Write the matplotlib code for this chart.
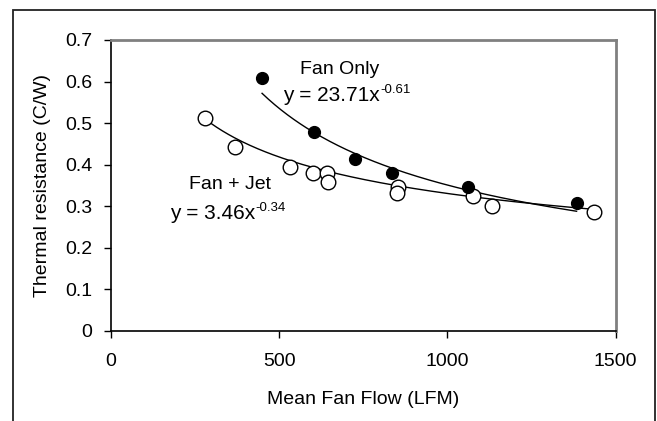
import numpy as np
import matplotlib
matplotlib.use("Agg")
import matplotlib.pyplot as plt
from matplotlib.patches import Rectangle

plt.rcParams['font.family'] = ['Liberation Sans', 'DejaVu Sans']

# Fan only measurements
fan_only_x = [449, 602, 724, 834, 1062, 1384]
fan_only_y = [0.609, 0.479, 0.413, 0.380, 0.345, 0.308]

# Fan + jet measurements
fan_jet_x = [279, 370, 531, 601, 641, 646, 852, 849, 1077, 1133, 1435]
fan_jet_y = [0.511, 0.443, 0.393, 0.379, 0.379, 0.359, 0.347, 0.331, 0.325, 0.301, 0.286]

# Power-law fits y = a * x^b
fan_only_fit = (23.71, -0.61)
fan_jet_fit = (3.46, -0.34)

x_ticks = [0, 500, 1000, 1500]
y_ticks = [0, 0.1, 0.2, 0.3, 0.4, 0.5, 0.6, 0.7]
y_tick_labels = ["0", "0.1", "0.2", "0.3", "0.4", "0.5", "0.6", "0.7"]

fig = plt.figure(figsize=(6.57, 4.21), dpi=100)
ax = fig.add_axes([0.169, 0.2145, 0.768, 0.6905])

# outer frame around the figure
fig.patches.append(Rectangle((0.0198, -0.2), 0.9772, 1.176, transform=fig.transFigure,
                             fill=False, edgecolor='#222222', linewidth=1.3,
                             clip_on=False, zorder=0))

for (a, b), xs in ((fan_only_fit, fan_only_x), (fan_jet_fit, fan_jet_x)):
    xx = np.linspace(min(xs), max(xs), 200)
    ax.plot(xx, a * xx ** b, color='black', linewidth=1.0, zorder=2)

ax.plot(fan_jet_x, fan_jet_y, linestyle='none', marker='o', markersize=10.5,
        markerfacecolor='white', markeredgecolor='black', markeredgewidth=1.0, zorder=3)
ax.plot(fan_only_x, fan_only_y, linestyle='none', marker='o', markersize=8.5,
        markerfacecolor='black', markeredgecolor='black', zorder=4)

ax.set_xlim(0, 1500)
ax.set_ylim(0, 0.7)
ax.set_xticks(x_ticks)
ax.set_yticks(y_ticks)
ax.set_yticklabels(y_tick_labels)
ax.tick_params(direction='out', length=5, width=1.0, labelsize=14, colors='black')
ax.tick_params(axis='x', pad=11)
ax.tick_params(axis='y', pad=8.5)

for side in ('top', 'right'):
    ax.spines[side].set_color('#808080')
    ax.spines[side].set_linewidth(2.0)
for side in ('left', 'bottom'):
    ax.spines[side].set_color('black')
    ax.spines[side].set_linewidth(1.2)

ax.set_xlabel("Mean Fan Flow (LFM)", fontsize=14, labelpad=15)
ax.set_ylabel("Thermal resistance (C/W)", fontsize=14, labelpad=10)


def fit_label(x, y, fit):
    a, b = fit
    base = ax.text(x, y, f"y = {a:.2f}x", fontsize=15, ha='left', va='center')
    ax.annotate(f"{b:.2f}", xy=(1, 1), xycoords=base, xytext=(0.5, 1.5),
                textcoords='offset points', fontsize=9.5, ha='left', va='top')


ax.text(679, 0.628, "Fan Only", fontsize=14, ha='center', va='center')
fit_label(511, 0.567, fan_only_fit)
ax.text(355, 0.353, "Fan + Jet", fontsize=14, ha='center', va='center')
fit_label(175, 0.283, fan_jet_fit)

fig.savefig("out.png", dpi=100)
